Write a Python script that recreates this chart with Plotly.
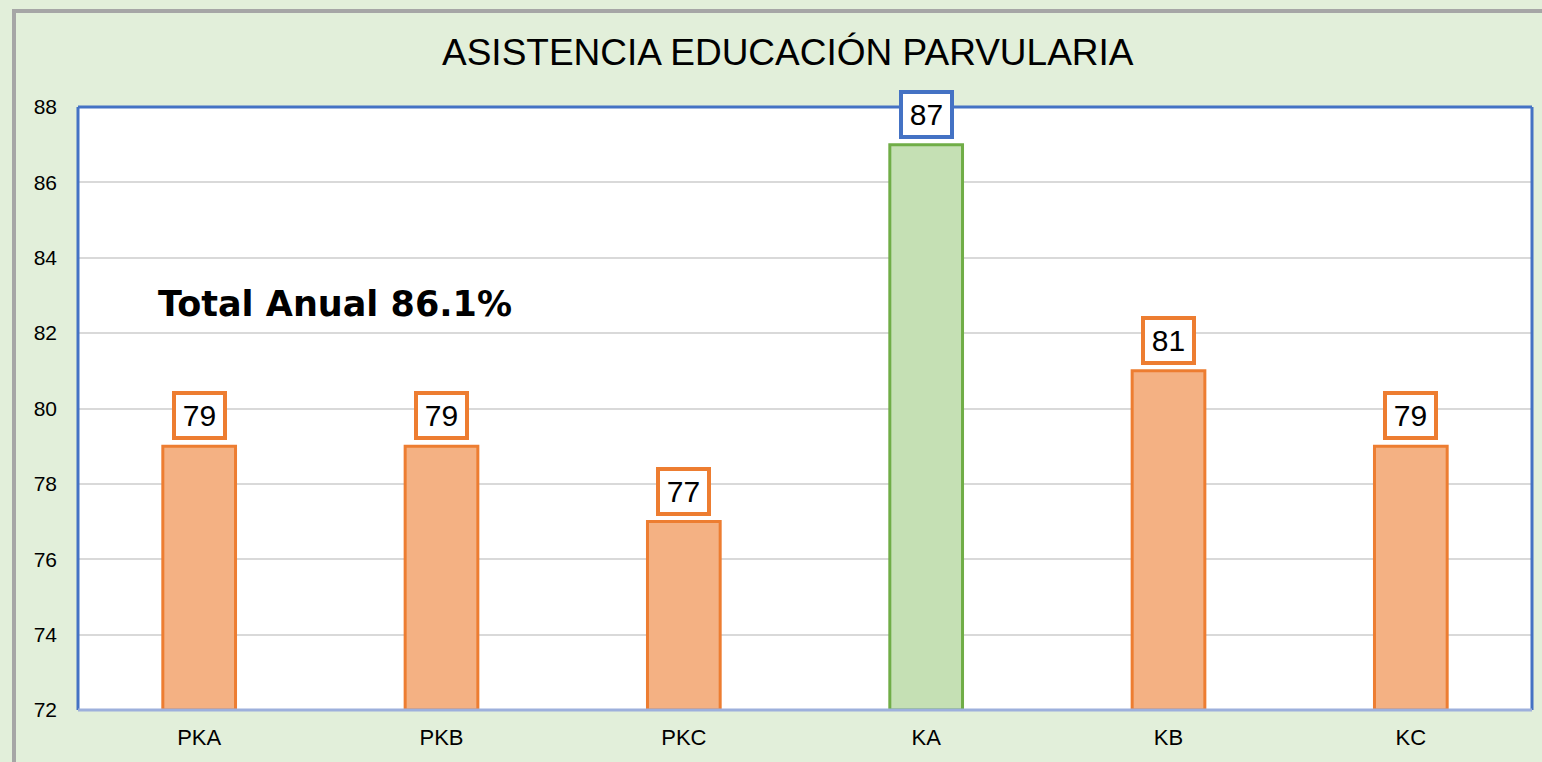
import plotly.graph_objects as go

categories = ["PKA", "PKB", "PKC", "KA", "KB", "KC"]
values = [79, 79, 77, 87, 81, 79]
y_ticks = [72, 74, 76, 78, 80, 82, 84, 86, 88]
title_text = "ASISTENCIA EDUCACIÓN PARVULARIA"
total_text = "Total Anual 86.1%"

Y_MIN, Y_MAX = 72, 88

ORANGE_FILL = "#F4B183"
ORANGE_LINE = "#ED7D31"
GREEN_FILL = "#C5E0B4"
GREEN_LINE = "#70AD47"
BLUE = "#4472C4"
GRAY = "#A6A6A6"
FONT = "Liberation Sans, Arial, sans-serif"

fills = [GREEN_FILL if c == "KA" else ORANGE_FILL for c in categories]
lines = [GREEN_LINE if c == "KA" else ORANGE_LINE for c in categories]
label_borders = [BLUE if c == "KA" else ORANGE_LINE for c in categories]

W, H = 1542, 762
L, R, T, B = 78, 10, 107, 52
pw = W - L - R
ph = H - T - B


def px_x(x):
    return (x - L) / pw


def px_y(y):
    return (H - B - y) / ph


fig = go.Figure()
fig.add_trace(go.Bar(
    x=categories, y=[v - Y_MIN for v in values], base=Y_MIN,
    marker=dict(color=fills, line=dict(color=lines, width=3)),
    hoverinfo="skip",
))

annotations = []
for c, v, bc in zip(categories, values, label_borders):
    annotations.append(dict(
        x=c, y=v, xref="x", yref="y", text=str(v), showarrow=False,
        yanchor="bottom", yshift=6,
        font=dict(family=FONT, size=30, color="black"),
        bgcolor="white", bordercolor=bc, borderwidth=4, borderpad=0,
        width=47, height=41,
    ))
annotations.append(dict(
    x=px_x(156), y=px_y(304), xref="paper", yref="paper", text="<b>" + total_text + "</b>",
    showarrow=False, xanchor="left", yanchor="middle",
    font=dict(family="DejaVu Sans, sans-serif", size=35, color="black"),
))
annotations.append(dict(
    x=px_x(788), y=px_y(53), xref="paper", yref="paper", text=title_text,
    showarrow=False, xanchor="center", yanchor="middle",
    font=dict(family=FONT, size=37, color="black"),
))

shapes = [
    # outer gray frame (left and top)
    dict(type="line", xref="paper", yref="paper",
         x0=px_x(14), x1=px_x(14), y0=px_y(H + 5), y1=px_y(9),
         line=dict(color=GRAY, width=4), layer="above"),
    dict(type="line", xref="paper", yref="paper",
         x0=px_x(12), x1=px_x(W + 5), y0=px_y(11), y1=px_y(11),
         line=dict(color=GRAY, width=4), layer="above"),
    # plot area border
    dict(type="line", xref="paper", yref="paper", x0=0, x1=0, y0=0, y1=1,
         line=dict(color=BLUE, width=3), layer="above"),
    dict(type="line", xref="paper", yref="paper", x0=1, x1=1, y0=0, y1=1,
         line=dict(color=BLUE, width=3), layer="above"),
    dict(type="line", xref="paper", yref="paper", x0=0, x1=1, y0=1, y1=1,
         line=dict(color=BLUE, width=3), layer="above"),
    dict(type="line", xref="paper", yref="paper", x0=0, x1=1, y0=0, y1=0,
         line=dict(color="#9DB0DC", width=3), layer="above"),
]

fig.update_layout(
    width=W, height=H,
    margin=dict(l=L, r=R, t=T, b=B, pad=0),
    paper_bgcolor="#E2EFDA", plot_bgcolor="white",
    showlegend=False, bargap=0.70,
    annotations=annotations, shapes=shapes,
    font=dict(family=FONT, color="black"),
)
fig.update_xaxes(
    showline=False, tickfont=dict(size=22), ticks="", ticklabelstandoff=12,
    showgrid=False,
)
fig.update_yaxes(
    range=[Y_MIN, Y_MAX], tickvals=y_ticks, ticktext=[str(t) for t in y_ticks],
    showline=False, gridcolor="#D9D9D9", gridwidth=1.5, tickfont=dict(size=21),
    ticks="", ticklabelstandoff=20, zeroline=False,
)

fig.write_html(
    "out.html",
    config={"displayModeBar": False},
    post_script="document.body.style.margin='0';document.body.style.overflow='hidden';",
)
